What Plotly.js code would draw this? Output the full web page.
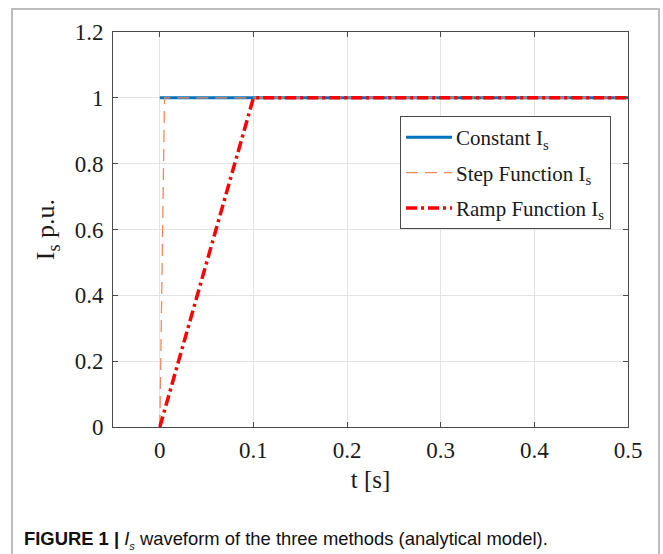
<!DOCTYPE html>
<html><head><meta charset="utf-8">
<script src="https://cdn.plot.ly/plotly-3.0.1.min.js"></script>
<style>
html,body{margin:0;padding:0;background:#fff;}
#wrap{position:relative;width:663px;height:554px;overflow:hidden;}
#frame{position:absolute;left:11px;top:8px;width:649px;height:560px;border:2px solid #bdbdbd;box-sizing:border-box;pointer-events:none;}
#chart{position:absolute;left:0;top:0;width:663px;height:554px;}
#cap{position:absolute;left:24px;top:528px;font-family:"Liberation Sans",Arial,sans-serif;font-size:18.4px;color:#111;white-space:nowrap;}
</style></head>
<body><div id="wrap"><div id="chart"></div><div id="frame"></div>
<div id="cap"><b>FIGURE 1 |</b> <i>I<sub style="font-size:11px">s</sub></i> waveform of the three methods (analytical model).</div></div>
<script>
const constT = [0, 0.5];
const constI = [1, 1];
const stepT = [0, 0.005, 0.5];
const stepI = [0, 1, 1];
const rampT = [0, 0.1, 0.5];
const rampI = [0, 1, 1];
const xTicks = [0, 0.1, 0.2, 0.3, 0.4, 0.5];
const yTicks = [0, 0.2, 0.4, 0.6, 0.8, 1, 1.2];

const serif = "Liberation Serif, Times New Roman, serif";
const traces = [
  {x: constT, y: constI, mode: 'lines', name: 'Constant I<sub>s</sub>', legendgroup: 'a', line: {color: '#0072BD', width: 3}},
  {x: stepT, y: stepI, mode: 'lines', name: 'Step Function I<sub>s</sub>', legendgroup: 'b', line: {color: '#EE8A62', width: 1.3, dash: '12px,7px'}},
  {x: rampT, y: rampI, mode: 'lines', name: 'Ramp Function I<sub>s</sub>', legendgroup: 'c', line: {color: '#FF0000', width: 3.5, dash: '11px,4px,3px,4px'}}
];
const axCommon = {
  showline: true, linecolor: '#4a4a4a', linewidth: 1, mirror: 'ticks',
  ticks: 'inside', ticklen: 5, tickcolor: '#4a4a4a',
  showgrid: true, gridcolor: '#e3e3e3', gridwidth: 1, zeroline: false,
  tickfont: {family: serif, size: 23, color: '#1a1a1a'}
};
const layout = {
  width: 663, height: 554,
  margin: {l: 113, r: 35, t: 32, b: 127},
  paper_bgcolor: 'rgba(0,0,0,0)', plot_bgcolor: '#fff',
  showlegend: true,
  xaxis: Object.assign({}, axCommon, {range: [-0.05, 0.5], tickvals: xTicks, ticktext: xTicks.map(String),
    ticklabelstandoff: 2,
    title: {text: 't [s]', font: {family: serif, size: 25, color: '#1a1a1a'}, standoff: 8}}),
  yaxis: Object.assign({}, axCommon, {range: [0, 1.2], tickvals: yTicks, ticktext: yTicks.map(String),
    ticklabelstandoff: 4,
    title: {text: 'I<sub>s</sub> p.u.', font: {family: serif, size: 26, color: '#1a1a1a'}, standoff: 12}}),
  legend: {x: 0.967, y: 0.787, xanchor: 'right', yanchor: 'top', bgcolor: '#fff',
    bordercolor: '#4a4a4a', borderwidth: 1, font: {family: serif, size: 21, color: '#1a1a1a'},
    tracegroupgap: 5, itemwidth: 45}
};
Plotly.newPlot('chart', traces, layout, {displayModeBar: false, staticPlot: true}).then(function (gd) {
  // lengthen the legend line samples to fill the item width
  gd.querySelectorAll('.legend .legendlines path').forEach(function (p) {
    p.setAttribute('d', 'M5,0h46');
  });
});
</script></body></html>
